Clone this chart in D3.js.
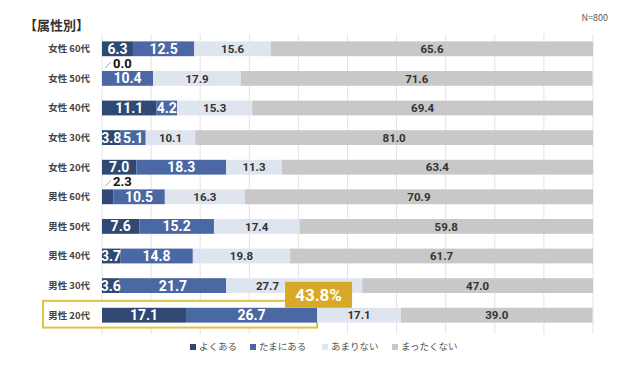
<!DOCTYPE html>
<html>
<head>
<meta charset="utf-8">
<script src="https://cdn.jsdelivr.net/npm/d3@7"></script>
<style>
  body { margin: 0; background: #fff; }
  text { font-family: "Noto Sans CJK JP", "Noto Sans", sans-serif; }
  text.num { font-family: Roboto, "Noto Sans", sans-serif; }
</style>
</head>
<body>
<svg id="chart" width="640" height="365"></svg>
<script>
// data
const categories = ["女性 60代", "女性 50代", "女性 40代", "女性 30代", "女性 20代",
                    "男性 60代", "男性 50代", "男性 40代", "男性 30代", "男性 20代"];
const seriesNames = ["よくある", "たまにある", "あまりない", "まったくない"];
const often     = [6.3, 0.0, 11.1, 3.8, 7.0, 2.3, 7.6, 3.7, 3.6, 17.1];
const sometimes = [12.5, 10.4, 4.2, 5.1, 18.3, 10.5, 15.2, 14.8, 21.7, 26.7];
const rarely    = [15.6, 17.9, 15.3, 10.1, 11.3, 16.3, 17.4, 19.8, 27.7, 17.1];
const never     = [65.6, 71.6, 69.4, 81.0, 63.4, 70.9, 59.8, 61.7, 47.0, 39.0];
const highlightIndex = 9;

const colors = ["#2f4874", "#4a68a3", "#dfe5ee", "#c8c8c8"];
const labelColors = ["#fff", "#fff", "#333", "#333"];

const svg = d3.select("#chart");
const margin = {top: 34, right: 47, bottom: 35, left: 102};
const width = 640 - margin.left - margin.right;

const rows = categories.map((c, i) => ({
  cat: c, s0: often[i], s1: sometimes[i], s2: rarely[i], s3: never[i]
}));
const keys = ["s0", "s1", "s2", "s3"];
const stacked = d3.stack().keys(keys)(rows);

const x = d3.scaleLinear().domain([0, 100]).range([margin.left, margin.left + width]);
const y = d3.scaleBand().domain(categories).range([margin.top, 330]).paddingInner(0.5).paddingOuter(0.25);

const hCat = categories[highlightIndex];
const hTotal = often[highlightIndex] + sometimes[highlightIndex];
const badgeLeft = x(hTotal) - 32;
const badgeW = 67;

// gridlines
svg.append("g")
  .selectAll("line")
  .data(d3.range(0, 101, 10))
  .join("line")
  .attr("x1", d => x(d)).attr("x2", d => x(d))
  .attr("y1", margin.top).attr("y2", 334)
  .attr("stroke", "#e3e3e3").attr("stroke-width", 1);

// highlight outline (under everything else)
svg.append("rect")
  .attr("x", 43).attr("y", y(hCat) - 7)
  .attr("width", x(hTotal) - 43).attr("height", y.bandwidth() + 12)
  .attr("fill", "#fffef8").attr("stroke", "#dcc24a").attr("stroke-width", 2);

// title & N
svg.append("text").attr("x", 24).attr("y", 30)
  .attr("font-size", 13).attr("font-weight", "bold").attr("fill", "#333")
  .text("【属性別】");
svg.append("text").attr("x", 608).attr("y", 21).attr("text-anchor", "end")
  .attr("font-size", 9).attr("fill", "#555").text("N=800");

// category labels
svg.append("g")
  .selectAll("text")
  .data(categories)
  .join("text")
  .attr("x", 90)
  .attr("y", d => y(d) + y.bandwidth() / 2)
  .attr("dy", "0.35em")
  .attr("text-anchor", "end")
  .attr("font-size", 9.5).attr("font-weight", "bold").attr("fill", "#444")
  .text(d => d);

// bars
const layers = svg.append("g").selectAll("g")
  .data(stacked)
  .join("g")
  .attr("fill", (d, i) => colors[i]);

layers.selectAll("rect")
  .data(d => d)
  .join("rect")
  .attr("x", d => x(d[0]))
  .attr("y", d => y(d.data.cat))
  .attr("width", d => x(d[1]) - x(d[0]))
  .attr("height", y.bandwidth());

// value labels
stacked.forEach((layer, li) => {
  layer.forEach((d, ri) => {
    const v = d.data[keys[li]];
    const cy = y(d.data.cat) + y.bandwidth() / 2;
    if (li === 0 && v < 3) {
      // callout above the bar
      svg.append("line")
        .attr("x1", x(0) + 3).attr("y1", y(d.data.cat) - 3)
        .attr("x2", x(0) + 9).attr("y2", y(d.data.cat) - 9)
        .attr("stroke", "#aaa").attr("stroke-width", 1);
      svg.append("text").attr("class", "num")
        .attr("x", x(0) + 11).attr("y", y(d.data.cat) - 7.5)
        .attr("dy", "0.35em")
        .attr("font-size", 13).attr("font-weight", "bold").attr("fill", "#111")
        .text(v.toFixed(1));
      return;
    }
    let lx = (x(d[0]) + x(d[1])) / 2, anchor = "middle";
    // a label sitting under the badge is pushed to its left
    if (ri === highlightIndex - 1 && lx > badgeLeft - 20 && lx < badgeLeft + badgeW + 20) {
      lx = badgeLeft - 6; anchor = "end";
    }
    svg.append("text").attr("class", "num")
      .attr("x", lx)
      .attr("y", cy)
      .attr("dy", "0.36em")
      .attr("text-anchor", anchor)
      .attr("font-size", li < 2 ? 14 : 11.5)
      .attr("font-weight", "bold")
      .attr("fill", labelColors[li])
      .text(v.toFixed(1));
  });
});

// highlight badge
svg.append("rect")
  .attr("x", badgeLeft).attr("y", y(hCat) - 26)
  .attr("width", badgeW).attr("height", 26)
  .attr("fill", "#d8a929");
svg.append("text").attr("class", "num")
  .attr("x", badgeLeft + badgeW / 2).attr("y", y(hCat) - 13)
  .attr("dy", "0.36em").attr("text-anchor", "middle")
  .attr("font-size", 17).attr("font-weight", "bold").attr("fill", "#fff")
  .text(d3.format(".1f")(hTotal) + "%");

// legend
const legendX = [190, 250, 322, 392];
const legend = svg.append("g").selectAll("g")
  .data(seriesNames)
  .join("g")
  .attr("transform", (d, i) => `translate(${legendX[i]},347)`);
legend.append("rect")
  .attr("x", 0).attr("y", -3).attr("width", 6).attr("height", 6)
  .attr("fill", (d, i) => colors[i]);
legend.append("text")
  .attr("x", 9).attr("y", 0).attr("dy", "0.35em")
  .attr("font-size", 9.5).attr("fill", "#555")
  .text(d => d);
</script>
</body>
</html>
